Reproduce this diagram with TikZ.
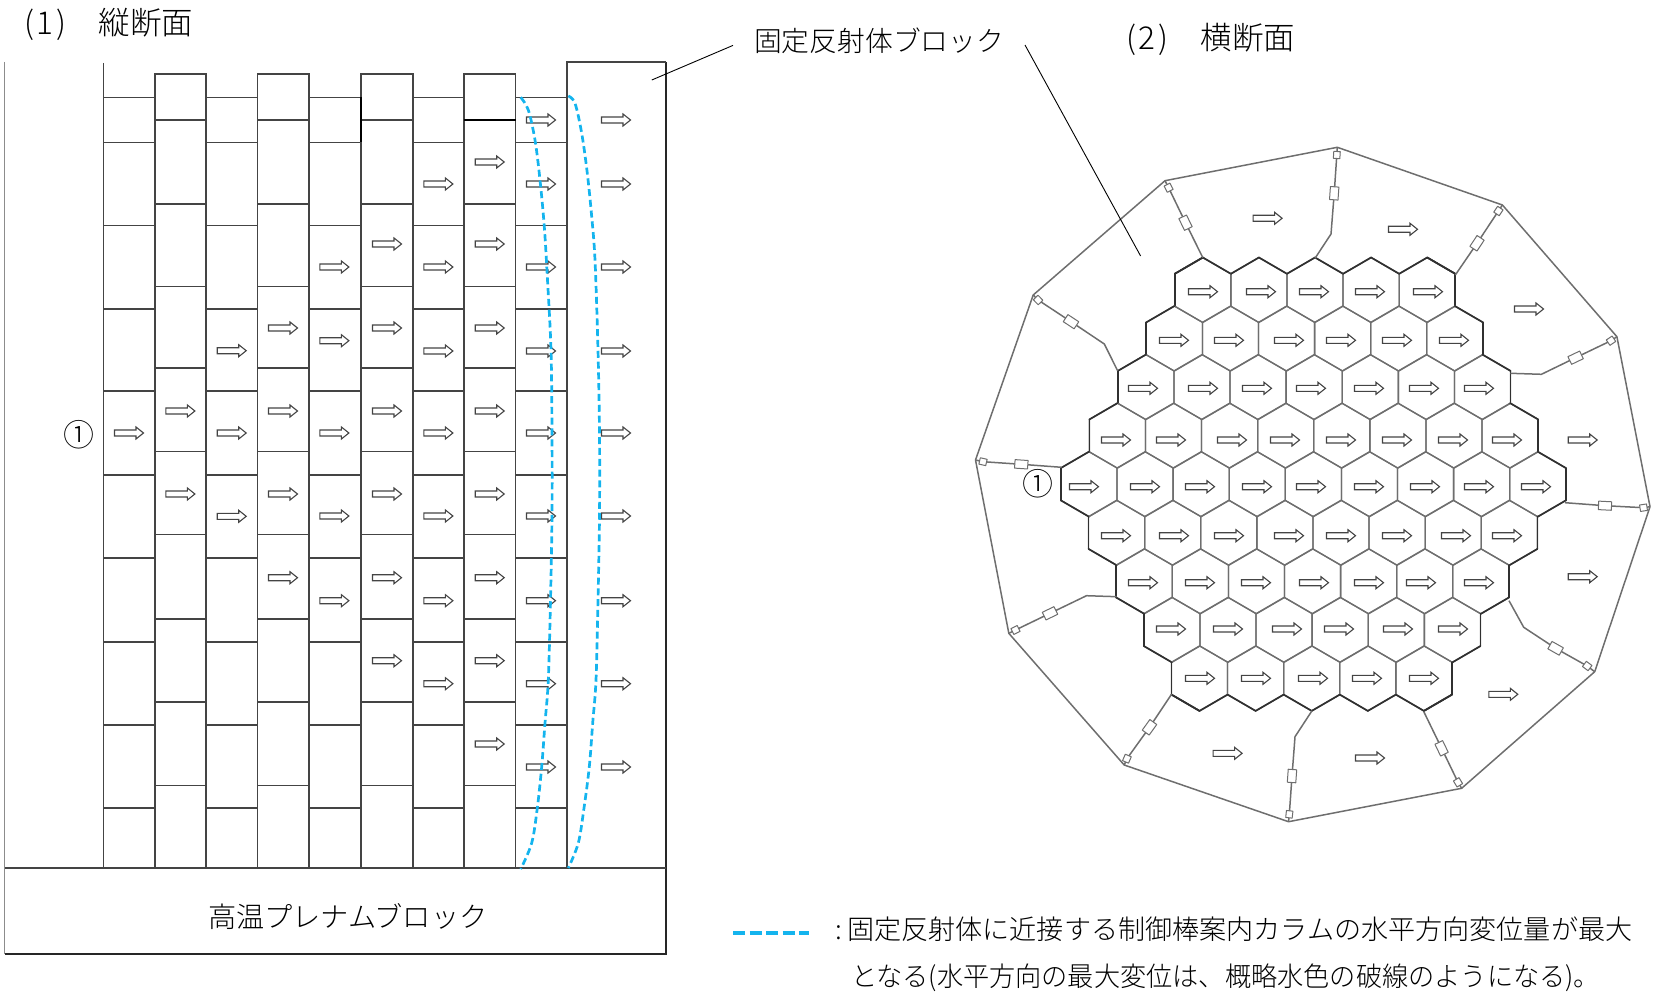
\documentclass[tikz,border=0pt]{standalone}
\usepackage{fontspec}
\setmainfont{Noto Sans CJK JP Light}
\definecolor{wallgray}{HTML}{8C8C8C}
\definecolor{cellline}{HTML}{444444}
\definecolor{hexgray}{HTML}{6E6E6E}
\definecolor{hexdark}{HTML}{303030}
\definecolor{skyblue}{HTML}{14B4EE}
\tikzset{
  cell/.style={draw=cellline,line width=1.25pt},
  wall/.style={draw=black!85,line width=1.8pt},
  hexline/.style={draw=hexgray,line width=1.3pt,line join=round},
  hexedge/.style={draw=hexdark,line width=1.7pt,line cap=round},
  outerline/.style={draw=hexgray,line width=1.5pt,line join=round},
  leader/.style={draw=black,line width=0.9pt},
  dashblue/.style={draw=skyblue,line width=2.7pt,dash pattern=on 7pt off 3.8pt},
  lbl/.style={inner sep=0pt,outer sep=0pt,anchor=west,font=\fontsize{27}{27}\selectfont},
  big/.style={draw=hexgray,fill=white,line width=1pt,minimum width=13pt,minimum height=8.5pt,inner sep=0pt,sloped},
  sqr/.style={draw=hexgray,fill=white,line width=1pt,minimum width=7pt,minimum height=6.5pt,inner sep=0pt,sloped},
  harr/.pic={\draw[draw=cellline,fill=white,line width=1.1pt,line join=miter]
    (-14.5,-3) -- (7,-3) -- (7,-6) -- (14.5,0) -- (7,6) -- (7,3) -- (-14.5,3) -- cycle;}
}
\begin{document}
\begin{tikzpicture}[x=1pt,y=-1pt]
\useasboundingbox (0,0) rectangle (1656,992);
% ---- vertical section: frame
\draw[draw=wallgray,line width=1.3pt] (4.5,62) -- (4.5,954);
\draw[wall] (4.5,954) -- (666,954) -- (666,62);
\draw[cell] (567,868) -- (567,62) -- (666,62);
\draw[cell] (4.5,868) -- (666,868);
\draw[cell] (103.6,63) -- (103.6,868);
\foreach \xa/\xb in {155/206,257.6/309,361/413,464/515.6}{
  \draw[cell] (\xa,868) -- (\xa,74) -- (\xb,74) -- (\xb,868);
  \foreach \y in {120,204,286.7,368,451.7,534.7,619,702,785.7}
    \draw[cell] (\xa,\y) -- (\xb,\y);
}
\foreach \xa/\xb in {103.6/155,206/257.6,309/361,413/464,515.6/567}{
  \foreach \y in {97.3,142.3,225.3,309,391,475,558,642,725,808}
    \draw[cell] (\xa,\y) -- (\xb,\y);
}
\draw[draw=black,line width=1.7pt] (361,97.3) -- (361,142.3);
\draw[draw=black,line width=1.9pt] (464,120) -- (515.6,120);
% ---- vertical section: arrows
\foreach \x/\ylist in {
  129/{433},
  180.4/{411,494},
  231.7/{350.7,433,516.3},
  283/{328,411,494,577.7},
  334.4/{267,340.7,433,516,600.7},
  387/{244,328,411,494,577.7,660.7},
  438.4/{184,267,351,433,516,600.7,683.7},
  489.7/{162,244,328,411,494,577.7,660.7,744},
  541/{120,184,267,351,433,516,600.7,683.7,767},
  616/{120,184,267,351,433,516,600.7,683.7,767}}{
  \foreach \y in \ylist \pic at (\x,\y) {harr};
}
% ---- displaced shape
\draw[dashblue] plot[smooth,tension=0.55] coordinates {(520.7,97.3) (528.3,110) (535,140) (540,180) (544.3,226.7) (547.5,280) (551,350) (552,433) (552,516) (550.5,600) (548.3,680) (545,723) (541.7,766.7) (537.3,808) (531.7,843) (520.7,869)};
\draw[dashblue] plot[smooth,tension=0.55] coordinates {(568.3,96) (575,103.3) (581.7,133.3) (587.3,173.3) (591.7,216.7) (595,260) (598,350) (599.5,433) (599.5,516) (598,600) (596,680) (592.7,723) (589.3,766.7) (584,808) (578.3,843) (568.3,868)};
% ---- hexagons
\foreach \r in {1,...,9}{
  \pgfmathtruncatemacro\n{9-abs(\r-5)}
  \foreach \i in {1,...,\n}{
    \pgfmathsetmacro\cx{1315-0.41*(\r-1)+(\i-(\n+1)/2)*56.1}
    \pgfmathsetmacro\cy{290+48.55*(\r-1)}
    \begin{scope}[shift={(\cx,\cy)}]
      \coordinate (N) at (0,-32.5);
      \coordinate (NE) at (28.05,-16.2);
      \coordinate (SE) at (28.05,16.2);
      \coordinate (S) at (0,32.5);
      \coordinate (SW) at (-28.05,16.2);
      \coordinate (NW) at (-28.05,-16.2);
      \draw[hexline] (N) -- (NE) -- (SE) -- (S) -- (SW) -- (NW) -- cycle;
      \ifnum\r=1 \draw[hexedge] (NW) -- (N) -- (NE); \fi
      \ifnum\r=9 \draw[hexedge] (SW) -- (S) -- (SE); \fi
      \ifnum\i=1
        \draw[hexedge] (NW) -- (SW);
        \ifnum\r<6 \draw[hexedge] (N) -- (NW); \fi
        \ifnum\r>4 \draw[hexedge] (S) -- (SW); \fi
      \fi
      \ifnum\i=\n
        \draw[hexedge] (NE) -- (SE);
        \ifnum\r<6 \draw[hexedge] (N) -- (NE); \fi
        \ifnum\r>4 \draw[hexedge] (S) -- (SE); \fi
      \fi
    \end{scope}
  }
}
% ---- hexagon arrows (x positions)
\foreach \y/\xlist in {
  291.7/{1203,1261,1314,1370,1428},
  340.3/{1174,1229,1289,1341,1397,1454},
  388.3/{1143,1203,1257,1311,1369,1424,1479},
  440/{1116,1171,1232,1285,1341,1397,1453,1507},
  486.7/{1084,1145,1200,1257,1311,1369,1425,1479,1536},
  535.7/{1116,1174,1229,1289,1341,1397,1456,1507},
  582.7/{1143,1200,1256,1314,1369,1421,1479},
  629/{1171,1228,1287,1339,1398,1453},
  678.3/{1200,1256,1313,1367,1424}}{
  \foreach \x in \xlist \pic at (\x,\y) {harr};
}
% ---- outer polygon
\draw[outerline] (1165,180.7) -- (1337.3,147.3) -- (1502.4,205) -- (1616.9,336.7) -- (1650,506.7) -- (1594.7,671.7) -- (1461.6,788.3) -- (1288.5,821.7) -- (1124.2,765) -- (1008.8,633.3) -- (975.5,460) -- (1033.2,295) -- cycle;
\foreach \x/\y in {1267.6/218.3,1403/229.3,1529/309,1582.7/440,1582.7/576.7,1503.3/694.3,1370/758,1227.6/753.3}
  \pic at (\x,\y) {harr};
% ---- couplers between hexagons and outer polygon
\draw[outerline] (1165,180.7) -- (1168.6,187.7) node[sqr,pos=1] (s1) {} -- (1185.5,222.7) node[big,pos=1] (b1) {} -- (1202.8,257.7);
\draw[outerline] (1337.3,147.3) -- (1336.8,155) node[sqr,pos=1] (s2) {} -- (1334.2,193.3) node[big,pos=1] (b2) {} -- (1331,234) -- (1315,258.3);
\draw[outerline] (1502.4,205) -- (1498.4,211) node[sqr,pos=1] (s3) {} -- (1477,243.3) node[big,pos=1] (b3) {} -- (1455.3,275);
\draw[outerline] (1616.9,336.7) -- (1611,340.7) node[sqr,pos=1] (s4) {} -- (1575.6,357.7) node[big,pos=1] (b4) {} -- (1541.4,374.3) -- (1510.4,373.3);
\draw[outerline] (1650,506.7) -- (1643.5,507.7) node[sqr,pos=1] (s5) {} -- (1605,505.7) node[big,pos=1] (b5) {} -- (1565,502.7);
\draw[outerline] (1594.7,671.7) -- (1587.2,666) node[sqr,pos=1] (s6) {} -- (1555.6,648.3) node[big,pos=1] (b6) {} -- (1523.7,627.3) -- (1509,600.7);
\draw[outerline] (1461.6,788.3) -- (1458,782.3) node[sqr,pos=1] (s7) {} -- (1441.6,748.3) node[big,pos=1] (b7) {} -- (1423.8,711.7);
\draw[outerline] (1288.5,821.7) -- (1289.3,814.3) node[sqr,pos=1] (s8) {} -- (1292,776) node[big,pos=1] (b8) {} -- (1295,736.7) -- (1312,710.7);
\draw[outerline] (1124.2,765) -- (1126.9,758.7) node[sqr,pos=1] (s9) {} -- (1149.5,727.3) node[big,pos=1] (b9) {} -- (1171.7,694);
\draw[outerline] (1008.8,633.3) -- (1015.5,630) node[sqr,pos=1] (s10) {} -- (1050,613.3) node[big,pos=1] (b10) {} -- (1086.5,595.7) -- (1116.7,596.7);
\draw[outerline] (975.5,460) -- (983,461.7) node[sqr,pos=1] (s11) {} -- (1021.3,464.3) node[big,pos=1] (b11) {} -- (1061.6,467.3);
\draw[outerline] (1033.2,295) -- (1038.1,300) node[sqr,pos=1] (s12) {} -- (1071,321.7) node[big,pos=1] (b12) {} -- (1104.3,344) -- (1117.6,370.7);
% ---- labels
\node[lbl,font=\fontsize{31.5}{31.5}\selectfont] (t1) at (24,24.5) {(\kern3pt 1\kern3pt)\hspace{32pt}縦断面};
\node[lbl,font=\fontsize{31.5}{31.5}\selectfont] (t2) at (1126,39) {(\kern3pt 2\kern3pt)\hspace{32pt}横断面};
\node[lbl,font=\fontsize{27.8}{27.8}\selectfont] (tref) at (754,41) {固定反射体ブロック};
\node[lbl,font=\fontsize{28.2}{28.2}\selectfont] (tplenum) at (208,917) {高温プレナムブロック};
\node[lbl,font=\fontsize{27.1}{27.1}\selectfont] (leg1) at (835,929) {:\kern5.5pt 固定反射体に近接する制御棒案内カラムの水平方向変位量が最大};
\node[lbl,xscale=0.97,transform shape] (leg2) at (851,978) {となる(水平方向の最大変位は、概略水色の破線のようになる)。};
\node[inner sep=0pt,font=\fontsize{31}{31}\selectfont] (c1) at (78.6,434.3) {①};
\node[inner sep=0pt,font=\fontsize{31}{31}\selectfont] (c2) at (1037.7,484) {①};
% ---- leaders and legend sample
\coordinate (la) at (733,45.4);
\coordinate (lb) at (651.8,80);
\coordinate (lc) at (1025,45);
\coordinate (ld) at (1140.6,256);
\draw[leader] (la) -- (lb);
\draw[leader] (lc) -- (ld);
\coordinate (da) at (733,932.5);
\coordinate (db) at (809,932.5);
\draw[draw=skyblue,line width=4pt,dash pattern=on 12pt off 4.5pt] (da) -- (db);
\end{tikzpicture}
\end{document}
